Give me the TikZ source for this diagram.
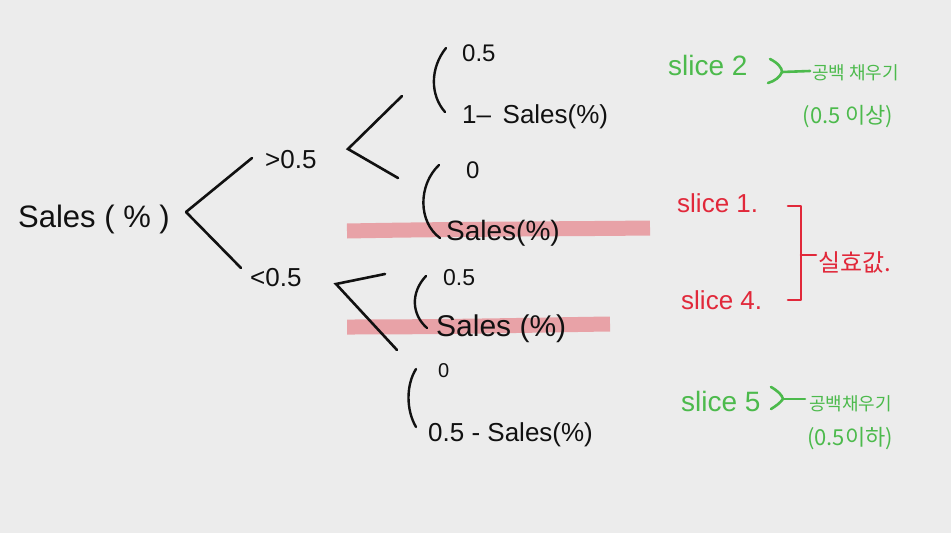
\documentclass[tikz,border=0pt]{standalone}
\usepackage{fontspec}
\setmainfont{Liberation Sans}
\newfontfamily\kr{Noto Sans CJK KR}
\definecolor{bg}{RGB}{236,236,236}
\definecolor{ink}{RGB}{17,17,17}
\definecolor{gr}{RGB}{76,186,76}
\definecolor{rd}{RGB}{225,40,58}
\definecolor{hl}{RGB}{232,150,156}
\tikzset{
  edge/.style={draw=ink, line width=2.6pt, line cap=round},
  parenline/.style={draw=ink, line width=2.4pt, line cap=round},
  txt/.style={inner sep=0pt, text=ink, anchor=west},
  gtxt/.style={inner sep=0pt, text=gr, anchor=west},
  rtxt/.style={inner sep=0pt, text=rd, anchor=west},
  gline/.style={draw=gr, line width=2.6pt, line cap=round},
  rline/.style={draw=rd, line width=2.6pt, line cap=round, line join=round},
  hilite/.style={draw=hl, line width=15pt, opacity=0.85, line cap=butt},
}
\newcommand{\fs}[1]{\fontsize{#1}{#1}\selectfont}
\begin{document}
\begin{tikzpicture}[x=1pt,y=-1pt]
\fill[bg] (0,0) rectangle (951,533);
\useasboundingbox (0,0) rectangle (951,533);

% highlights
\draw[hilite] (347,231) .. controls (450,229) and (560,229) .. (650,228);
\draw[hilite] (347,327) .. controls (450,327) and (540,325) .. (610,324);

% root and first split
\node[txt] (root) at (18,219) {\fs{31}Sales ( \% )};
\node[txt] (gt) at (265,160) {\fs{26}>0.5};
\node[txt] (lt) at (250,278) {\fs{26}<0.5};
\coordinate (r0) at (186,212);
\coordinate (r1) at (252,158);
\coordinate (r2) at (241,268);
\draw[edge] (r0) -- (r1);
\draw[edge] (r0) -- (r2);

% upper split
\coordinate (u0) at (348,149);
\coordinate (u1) at (402,96);
\coordinate (u2) at (398,178);
\draw[edge] (u1) -- (u0) -- (u2);

% lower split
\coordinate (l0) at (336,284);
\coordinate (l1) at (385,274);
\coordinate (l2) at (397,350);
\draw[edge] (l1) -- (l0) -- (l2);

% group A
\draw[parenline] (446,48) .. controls (430,68) and (430,95) .. (445,112);
\node[txt] (a1) at (462,53) {\fs{24}0.5};
\node[txt] (a2) at (462,117) {\fs{26}1– \,Sales(\%)};

% group B
\draw[parenline] (439,165) .. controls (418,185) and (418,222) .. (440,238);
\node[txt] (b1) at (466,170) {\fs{24}0};
\node[txt] (b2) at (446,233) {\fs{28}Sales(\%)};

% group C
\draw[parenline] (426,276) .. controls (410,293) and (412,315) .. (427,328);
\node[txt] (c1) at (443,278) {\fs{23}0.5};
\node[txt] (c2) at (436,329) {\fs{30}Sales (\%)};

% group D
\draw[parenline] (416,369) .. controls (406,385) and (406,410) .. (416,427);
\node[txt] (d1) at (438,371) {\fs{20}0};
\node[txt] (d2) at (428,435) {\fs{26}0.5 - Sales(\%)};

% green top
\node[gtxt] (s2) at (668,65) {\fs{28}slice 2};
\coordinate (g1a) at (770,59);
\coordinate (g1m) at (782,72);
\coordinate (g1b) at (768,83);
\coordinate (g1e) at (810,71);
\draw[gline] (g1a) .. controls (778,63) and (782,68) .. (g1m) .. controls (780,77) and (775,81) .. (g1b);
\draw[gline] (g1m) -- (g1e);
\node[gtxt] (k1) at (812,73) {\kr\fs{18}공백 채우기};
\node[inner sep=0pt, text=gr] (k2) at (848,117) {\kr\fs{22}(0.5 이상)};

% red
\node[rtxt] (s1) at (677,203) {\fs{26}slice 1.};
\node[rtxt] (s4) at (681,300) {\fs{26}slice 4.};
\coordinate (rb1) at (788,206);
\coordinate (rb2) at (801,206);
\coordinate (rb3) at (801,300);
\coordinate (rb4) at (788,300);
\coordinate (rbm) at (801,255);
\coordinate (rbe) at (816,255);
\draw[rline] (rb1) -- (rb2) -- (rb3) -- (rb4);
\draw[rline] (rbm) -- (rbe);
\node[rtxt] (k3) at (818,262) {\kr\fs{24}실효값.};

% green bottom
\node[gtxt] (s5) at (681,401) {\fs{28}slice 5};
\coordinate (g2a) at (771,387);
\coordinate (g2m) at (783,399);
\coordinate (g2b) at (771,409);
\coordinate (g2e) at (805,399);
\draw[gline] (g2a) .. controls (778,391) and (782,395) .. (g2m) .. controls (780,403) and (776,406) .. (g2b);
\draw[gline] (g2m) -- (g2e);
\node[gtxt] (k4) at (809,404) {\kr\fs{18}공백채우기};
\node[inner sep=0pt, text=gr] (k5) at (850,439) {\kr\fs{22}(0.5이하)};
\end{tikzpicture}
\end{document}
